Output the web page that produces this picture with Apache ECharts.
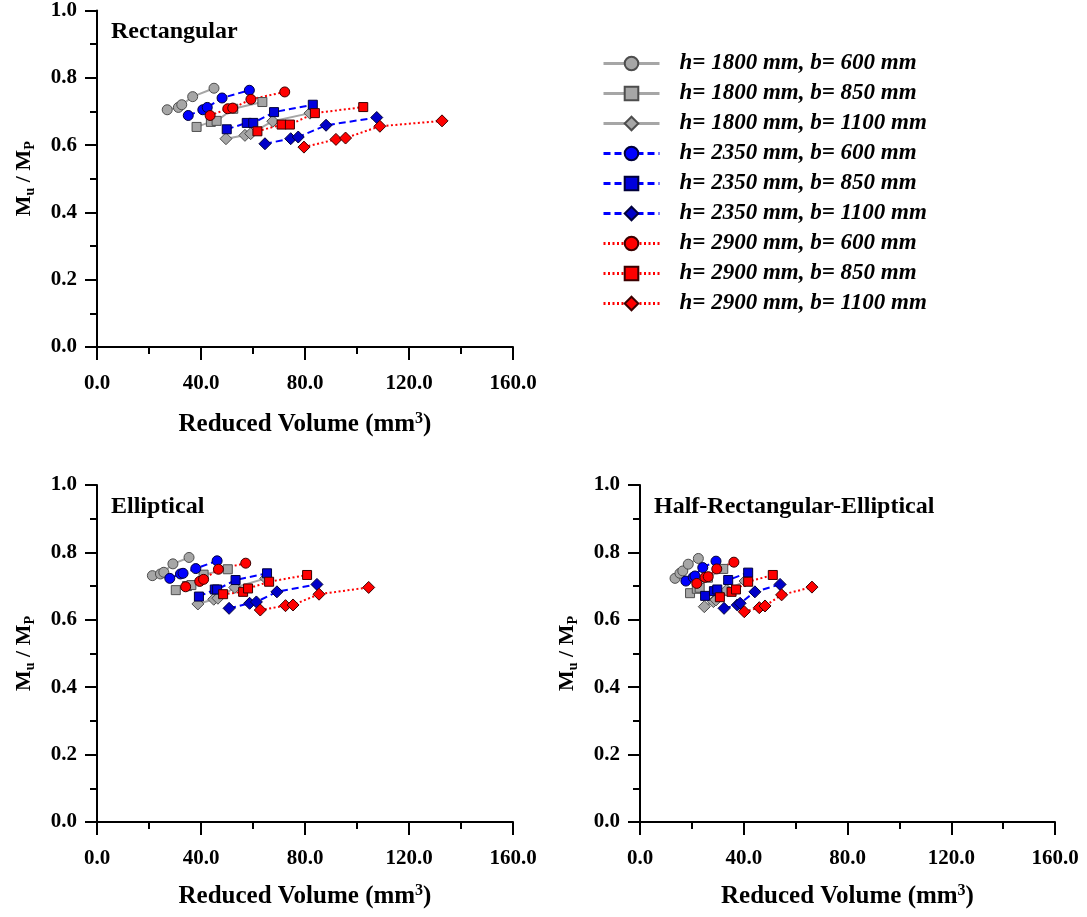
<!DOCTYPE html>
<html><head><meta charset="utf-8">
<script src="https://cdn.jsdelivr.net/npm/echarts@6/dist/echarts.min.js"></script>
<style>html,body{margin:0;padding:0;background:#fff}#c{width:1087px;height:917px}</style>
</head><body><div id="c"></div>
<script>
// ---- data: [reduced volume, Mu/Mp] ----
const seriesNames = ['h= 1800 mm, b= 600 mm','h= 1800 mm, b= 850 mm','h= 1800 mm, b= 1100 mm',
  'h= 2350 mm, b= 600 mm','h= 2350 mm, b= 850 mm','h= 2350 mm, b= 1100 mm',
  'h= 2900 mm, b= 600 mm','h= 2900 mm, b= 850 mm','h= 2900 mm, b= 1100 mm'];
const panelTitles = ['Rectangular','Elliptical','Half-Rectangular-Elliptical'];
const xTicks = [0, 40, 80, 120, 160];
const yTicks = [0, 0.2, 0.4, 0.6, 0.8, 1.0];

const rect_h1800_b600  = [[27.0,0.705],[31.3,0.712],[32.6,0.720],[36.8,0.744],[45.0,0.769]];
const rect_h1800_b850  = [[38.3,0.654],[43.8,0.669],[46.0,0.672],[52.4,0.708],[63.6,0.728]];
const rect_h1800_b1100 = [[49.6,0.619],[56.9,0.629],[59.1,0.634],[67.6,0.671],[81.9,0.695]];
const rect_h2350_b600  = [[35.1,0.688],[40.7,0.705],[42.4,0.712],[48.1,0.740],[58.6,0.763]];
const rect_h2350_b850  = [[49.9,0.647],[57.6,0.666],[60.1,0.666],[68.1,0.698],[83.0,0.720]];
const rect_h2350_b1100 = [[64.6,0.604],[74.5,0.619],[77.4,0.624],[88.1,0.659],[107.6,0.682]];
const rect_h2900_b600  = [[43.5,0.688],[50.3,0.708],[52.2,0.710],[59.2,0.736],[72.2,0.758]];
const rect_h2900_b850  = [[61.7,0.641],[71.0,0.661],[74.2,0.661],[83.8,0.695],[102.4,0.713]];
const rect_h2900_b1100 = [[79.6,0.594],[91.9,0.617],[95.6,0.621],[108.8,0.656],[132.7,0.672]];

const ell_h1800_b600  = [[21.3,0.731],[24.4,0.736],[25.7,0.741],[29.2,0.766],[35.4,0.785]];
const ell_h1800_b850  = [[30.3,0.688],[34.6,0.700],[36.3,0.703],[41.0,0.734],[50.3,0.750]];
const ell_h1800_b1100 = [[38.8,0.647],[44.9,0.661],[46.5,0.664],[53.0,0.696],[64.9,0.723]];
const ell_h2350_b600  = [[28.0,0.723],[32.1,0.736],[33.1,0.738],[38.0,0.752],[46.2,0.775]];
const ell_h2350_b850  = [[39.2,0.669],[45.3,0.690],[46.2,0.690],[53.3,0.718],[65.4,0.738]];
const ell_h2350_b1100 = [[50.8,0.634],[58.7,0.649],[61.3,0.653],[69.2,0.683],[84.6,0.705]];
const ell_h2900_b600  = [[34.1,0.698],[39.5,0.714],[41.0,0.720],[46.7,0.750],[57.2,0.768]];
const ell_h2900_b850  = [[48.5,0.676],[56.2,0.683],[58.1,0.693],[66.2,0.713],[80.8,0.733]];
const ell_h2900_b1100 = [[62.8,0.629],[72.5,0.642],[75.4,0.644],[85.4,0.676],[104.5,0.696]];

const hre_h1800_b600  = [[13.5,0.723],[15.4,0.738],[16.5,0.745],[18.6,0.765],[22.5,0.782]];
const hre_h1800_b850  = [[19.3,0.679],[21.9,0.692],[23.0,0.695],[26.2,0.725],[32.1,0.751]];
const hre_h1800_b1100 = [[24.8,0.639],[28.3,0.654],[29.3,0.659],[33.4,0.688],[40.5,0.715]];
const hre_h2350_b600  = [[17.7,0.715],[20.5,0.726],[21.2,0.730],[24.2,0.755],[29.3,0.774]];
const hre_h2350_b850  = [[25.1,0.671],[28.5,0.685],[29.8,0.690],[34.0,0.718],[41.7,0.740]];
const hre_h2350_b1100 = [[32.4,0.634],[37.5,0.644],[38.6,0.649],[44.3,0.683],[54.0,0.705]];
const hre_h2900_b600  = [[21.9,0.708],[25.1,0.726],[26.3,0.728],[29.6,0.751],[36.2,0.771]];
const hre_h2900_b850  = [[30.8,0.667],[35.3,0.683],[37.0,0.690],[41.7,0.713],[51.2,0.733]];
const hre_h2900_b1100 = [[40.2,0.624],[46.0,0.636],[48.2,0.641],[54.6,0.674],[66.3,0.697]];

const panels = [
  [rect_h1800_b600,rect_h1800_b850,rect_h1800_b1100,rect_h2350_b600,rect_h2350_b850,rect_h2350_b1100,rect_h2900_b600,rect_h2900_b850,rect_h2900_b1100],
  [ell_h1800_b600,ell_h1800_b850,ell_h1800_b1100,ell_h2350_b600,ell_h2350_b850,ell_h2350_b1100,ell_h2900_b600,ell_h2900_b850,ell_h2900_b1100],
  [hre_h1800_b600,hre_h1800_b850,hre_h1800_b1100,hre_h2350_b600,hre_h2350_b850,hre_h2350_b1100,hre_h2900_b600,hre_h2900_b850,hre_h2900_b1100]
];

// ---- styles ----
const FONT = '"Liberation Serif","Times New Roman",serif';
const symbols = ['circle','rect','diamond'];
const symSizes = [10, 9, 12];
const groupStyle = [
  {line:'#a6a6a6', type:'solid', fills:['#a6a6a6','#a6a6a6','#a6a6a6'], border:'#4d4d4d'},
  {line:'#0000ff', type:[7,4], fills:['#0000ff','#0000dd','#0000c8'], border:'#00003a'},
  {line:'#ff0000', type:[2,2.5], fills:['#ff0000','#ff0000','#ff0000'], border:'#3a0000'}
];
const grids = [
  {left:97, top:10, width:416, height:337},
  {left:97, top:485, width:416, height:337},
  {left:640, top:485, width:415, height:337}
];
const xNameGaps = [64, 61, 61];

const axisLine = {show:true, onZero:false, lineStyle:{color:'#000', width:2}};
const xAxes = grids.map((g,i)=>({
  type:'value', gridIndex:i, min:xTicks[0], max:xTicks[xTicks.length-1], interval:40,
  axisLine, axisTick:{show:true, inside:false, length:13, lineStyle:{width:2,color:'#000'}},
  minorTick:{show:true, splitNumber:2, length:7, lineStyle:{width:2,color:'#000'}},
  splitLine:{show:false},
  axisLabel:{margin:26, color:'#000', fontFamily:FONT, fontWeight:'bold', fontSize:21,
    formatter:v=>v.toFixed(1), showMaxLabel:true, showMinLabel:true},
  name:'{a|Reduced Volume (mm}{s|3}{a|)}', nameLocation:'middle', nameGap:xNameGaps[i],
  nameTextStyle:{rich:{a:{fontFamily:FONT,fontWeight:'bold',fontSize:25,color:'#000',lineHeight:28},
    s:{fontFamily:FONT,fontWeight:'bold',fontSize:16,color:'#000',verticalAlign:'top',lineHeight:16}}}
}));
const yAxes = grids.map((g,i)=>({
  type:'value', gridIndex:i, min:yTicks[0], max:yTicks[yTicks.length-1], interval:0.2,
  axisLine, axisTick:{show:true, inside:false, length:12, lineStyle:{width:2,color:'#000'}},
  minorTick:{show:true, splitNumber:2, length:7, lineStyle:{width:2,color:'#000'}},
  splitLine:{show:false},
  axisLabel:{margin:20, color:'#000', fontFamily:FONT, fontWeight:'bold', fontSize:21,
    formatter:v=>v.toFixed(1)},
  name:'{a|M}{b|u}{a| / M}{b|P}', nameLocation:'middle', nameGap:60, nameRotate:90,
  nameTextStyle:{rich:{a:{fontFamily:FONT,fontWeight:'bold',fontSize:22,color:'#000',lineHeight:26},
    b:{fontFamily:FONT,fontWeight:'bold',fontSize:14,color:'#000',verticalAlign:'bottom',lineHeight:14}}}
}));

const series = [];
panels.forEach((pdata, pi)=>{
  pdata.forEach((d, si)=>{
    const gi = Math.floor(si/3), ki = si%3;
    const gs = groupStyle[gi];
    series.push({
      type:'line', name:seriesNames[si], xAxisIndex:pi, yAxisIndex:pi, data:d,
      symbol:symbols[ki], symbolSize:symSizes[ki], showSymbol:true,
      lineStyle:{color:gs.line, width:2, type:gs.type},
      itemStyle:{color:gs.fills[ki], borderColor:gs.border, borderWidth:1},
      emphasis:{disabled:true}, animation:false
    });
  });
});

const titles = [
  {text:panelTitles[0], left:111, top:20},
  {text:panelTitles[1], left:111, top:495},
  {text:panelTitles[2], left:654, top:495}
].map(t=>Object.assign(t,{padding:0, textStyle:{fontFamily:FONT, fontWeight:'bold', fontSize:24, color:'#000'}}));

const chart = echarts.init(document.getElementById('c'), null, {renderer:'canvas'});
chart.setOption({
  backgroundColor:'#fff', animation:false,
  title:titles,
  grid:grids.map(g=>Object.assign({containLabel:false},g)),
  xAxis:xAxes, yAxis:yAxes,
  legend:{
    orient:'vertical', left:602, top:52, itemWidth:56, itemHeight:17, itemGap:7,
    padding:0, data:seriesNames, selectedMode:false,
    lineStyle:{width:3},
    textStyle:{fontFamily:FONT, fontWeight:'bold', fontStyle:'italic', fontSize:23, color:'#000',
      lineHeight:20, padding:[0,0,0,15]}
  },
  series
});
</script></body></html>
